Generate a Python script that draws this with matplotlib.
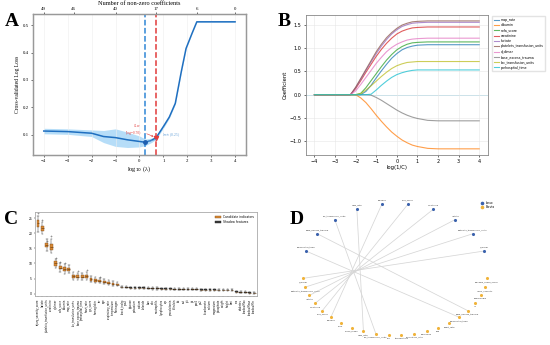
import numpy as np
import matplotlib
matplotlib.use('Agg')
import matplotlib.pyplot as plt
from matplotlib.patches import Patch
from matplotlib.lines import Line2D

# ---- Panel A data: lasso CV curve
log_lambda = [-4, -3, -2, -1.5, -1, -0.5, 0, 0.25, 0.5, 0.7, 1, 1.25, 1.5, 1.75, 1.95, 2.2, 2.4, 3, 4]
cv_loss = [0.114, 0.112, 0.106, 0.094, 0.090, 0.082, 0.076, 0.073, 0.080, 0.090, 0.130, 0.165,
           0.215, 0.330, 0.415, 0.470, 0.512, 0.512, 0.512]
cv_std = [0.010, 0.010, 0.012, 0.022, 0.032, 0.028, 0.020, 0.012, 0.008, 0.006, 0.006, 0.004,
          0.003, 0.002, 0.002, 0.001, 0.001, 0.001, 0.001]
lambda_min = 0.25
lambda_1se = 0.7
top_pos = [-4, -2.75, -1, 0.7, 2.4, 4]
top_labels = ['49', '46', '40', '17', '6', '0']

# ---- Panel B data: coefficient paths
log_c = [-4, -2.25, -2, -1.75, -1.5, -1.25, -1, -0.75, -0.5, -0.25, 0, 0.25, 0.5, 0.75, 1, 1.5, 2, 3, 4]
paths = {
    'map_rate': [0, 0, 0, 0, 0.07, 0.20, 0.36, 0.51, 0.65, 0.78, 0.88, 0.96, 1.01, 1.04, 1.06, 1.07, 1.07, 1.07, 1.07],
    'albumin': [0, 0, 0, -0.07, -0.17, -0.30, -0.44, -0.57, -0.69, -0.80, -0.89, -0.97, -1.03, -1.08, -1.11, -1.15, -1.16, -1.16, -1.16],
    'sofa_score': [0, 0, 0, 0.03, 0.15, 0.30, 0.45, 0.60, 0.74, 0.86, 0.96, 1.03, 1.08, 1.11, 1.12, 1.13, 1.13, 1.13, 1.13],
    'creatinine': [0, 0, 0.13, 0.30, 0.48, 0.65, 0.82, 0.97, 1.10, 1.21, 1.30, 1.36, 1.40, 1.43, 1.44, 1.45, 1.45, 1.45, 1.45],
    'lactate': [0, 0, 0.15, 0.33, 0.52, 0.70, 0.88, 1.04, 1.18, 1.30, 1.39, 1.46, 1.50, 1.53, 1.54, 1.55, 1.55, 1.55, 1.55],
    'platelets_transfusion_units': [0, 0, 0.16, 0.35, 0.54, 0.73, 0.92, 1.08, 1.22, 1.33, 1.42, 1.49, 1.53, 1.56, 1.57, 1.58, 1.58, 1.58, 1.58],
    'd_dimer': [0, 0, 0.08, 0.22, 0.37, 0.52, 0.67, 0.80, 0.92, 1.01, 1.08, 1.13, 1.17, 1.19, 1.20, 1.21, 1.21, 1.21, 1.21],
    'base_excess_trauma': [0, 0, 0, 0, 0, -0.01, -0.06, -0.12, -0.19, -0.26, -0.33, -0.39, -0.44, -0.48, -0.51, -0.55, -0.56, -0.56, -0.56],
    'rbc_transfusion_units': [0, 0, 0, 0.02, 0.10, 0.19, 0.29, 0.39, 0.48, 0.56, 0.62, 0.66, 0.69, 0.70, 0.71, 0.71, 0.71, 0.71, 0.71],
    'prehospital_time': [0, 0, 0, 0, 0, 0.01, 0.10, 0.20, 0.29, 0.37, 0.43, 0.47, 0.50, 0.52, 0.53, 0.53, 0.53, 0.53, 0.53],
}

# ---- Panel C data: boruta importance boxes
cand_names = ['injury_severity_score', 'lactate', 'platelets_transfusion_units', 'creatinine', 'd_dimer',
              'sofa_score', 'albumin', 'map_rate', 'rbc_transfusion_units', 'base_excess_trauma',
              'prehospital_time', 'heart_rate', 'gcs_score', 'hemoglobin', 'inr', 'age',
              'respiratory_rate', 'temperature', 'fibrinogen']
cand_med = [23.3, 21.7, 16.1, 15.6, 10.0, 8.6, 8.1, 8.0, 5.8, 5.6, 5.6, 5.8, 4.7, 4.4, 4.2, 3.9, 3.6, 3.3, 3.0]
cand_q1 = [22.2, 20.9, 15.3, 14.6, 9.3, 8.0, 7.5, 7.4, 5.3, 5.1, 5.1, 5.3, 4.3, 4.0, 3.85, 3.55, 3.3, 3.0, 2.75]
cand_q3 = [24.4, 22.5, 16.9, 16.6, 10.7, 9.2, 8.7, 8.6, 6.3, 6.1, 6.1, 6.3, 5.1, 4.8, 4.55, 4.25, 3.9, 3.6, 3.25]
cand_lo = [20.5, 19.8, 14.2, 13.3, 8.4, 7.1, 6.6, 6.8, 4.6, 4.5, 4.4, 4.6, 3.8, 3.5, 3.4, 3.1, 2.9, 2.6, 2.4]
cand_hi = [25.8, 23.7, 18.2, 18.0, 11.5, 10.0, 9.8, 9.6, 7.0, 6.9, 6.8, 7.2, 5.8, 5.5, 5.1, 4.9, 4.4, 4.2, 3.7]
cand_fly = [26.6, 24.5, 17.4, 19.0, 11.9, 10.6, 10.2, 0, 0, 7.5, 0, 7.8, 0, 0, 5.6, 0, 0, 0, 0]

shadow_names = ['shock_index', 'spo2', 'glucose', 'potassium', 'sodium', 'chloride', 'bun', 'wbc',
                'neutrophils', 'lymphocytes', 'crp', 'procalcitonin', 'bilirubin', 'alt', 'ast', 'ptt',
                'ph', 'pco2', 'po2', 'bicarbonate', 'calcium', 'magnesium', 'phosphate', 'weight',
                'height', 'bmi', 'sex', 'diabetes', 'shadowMax', 'shadowMean', 'shadowMin']
shadow_med = [2.2, 2.1, 2.0, 1.9, 1.9, 1.9, 1.8, 1.7, 1.7, 1.6, 1.6, 1.6, 1.5, 1.5, 1.5, 1.4, 1.4,
              1.4, 1.3, 1.3, 1.3, 1.3, 1.2, 1.2, 1.2, 1.2, 0.55, 0.45, 0.4, 0.3, 0.2]

# ---- Panel D data: feature overlap network
lasso_nodes = ['d_dimer', 'platelets_transfusion_units', 'lactate', 'creatinine', 'sofa_score',
               'albumin', 'map_rate', 'rbc_transfusion_units', 'base_excess_trauma', 'prehospital_time']
boruta_nodes = ['glasgow_coma_score', 'injury_severity', 'hemoglobin', 'inr', 'base_excess_trauma',
                'prehospital_time', 'heart_rate', 'age', 'fibrinogen', 'respiratory_rate',
                'temperature', 'gcs', 'rbc_transfusion_units', 'map_rate', 'shock_index', 'spo2',
                'albumin', 'sofa_score', 'creatinine', 'lactate', 'platelets_transfusion_units', 'd_dimer']

fig = plt.figure(figsize=(5.5, 3.45), dpi=100)
serif = 'Liberation Serif'

# ================= A =================
axA = fig.add_axes([0.06, 0.551, 0.387, 0.408])
lo = np.array(cv_loss) - np.array(cv_std)
hi = np.array(cv_loss) + np.array(cv_std)
axA.fill_between(log_lambda, lo, hi, color='#a9d8f7', alpha=0.85, lw=0)
axA.plot(log_lambda, cv_loss, color='#1f6fc0', lw=1.1)
axA.axvline(lambda_min, color='#2f86d6', ls='--', lw=1.1)
axA.axvline(lambda_1se, color='#e23a3a', ls='--', lw=1.1)
axA.plot([lambda_min], [np.interp(lambda_min, log_lambda, cv_loss)], 'o', color='#1f5fb0', ms=2.5)
axA.plot([lambda_1se], [np.interp(lambda_1se, log_lambda, cv_loss)], 'v', color='#e23a3a', ms=3)
axA.annotate('λ$_{1se}$\n(log=0.70)', xy=(lambda_1se, 0.09), xytext=(0.08, 0.105), fontsize=2.6,
             color='#e23a3a', ha='right', family=serif,
             arrowprops=dict(arrowstyle='->', color='#e23a3a', lw=0.4))
axA.annotate('λ$_{min}$ (0.25)', xy=(lambda_min, 0.073), xytext=(0.95, 0.094), fontsize=2.6,
             color='#5a9ad6', ha='left', family=serif,
             arrowprops=dict(arrowstyle='->', color='#5a9ad6', lw=0.4))
axA.set_xlim(-4.45, 4.45)
axA.set_ylim(0.027, 0.54)
axA.set_xticks(range(-4, 5))
axA.set_yticks([0.1, 0.2, 0.3, 0.4, 0.5])
axA.set_yticklabels(['0.1', '0.2', '0.3', '0.4', '0.5'])
axA.grid(axis='x', color='#eeeeee', lw=0.4)
axA.tick_params(labelsize=3.5, length=1.5, width=0.4, pad=1.5)
for lab in axA.get_xticklabels() + axA.get_yticklabels():
    lab.set_family(serif)
axA.set_xlabel('log$_{10}$ (λ)', fontsize=4.5, family=serif, labelpad=1)
axA.set_ylabel('Cross-validated Log Loss', fontsize=4, family=serif, labelpad=2)
for s in axA.spines.values():
    s.set_color('#999999')
    s.set_linewidth(0.9)
topA = axA.twiny()
topA.set_xlim(axA.get_xlim())
topA.set_xticks(top_pos)
topA.set_xticklabels(top_labels, fontsize=3.5, family=serif)
topA.tick_params(length=1.5, width=0.4, pad=1)
topA.set_xlabel('Number of non-zero coefficients', fontsize=4.5, family=serif, labelpad=1.5)
for s in topA.spines.values():
    s.set_color('#999999')
    s.set_linewidth(0.9)

# ================= B =================
axB = fig.add_axes([0.556, 0.551, 0.331, 0.406])
colors = plt.cm.tab10.colors
for i, (name, vals) in enumerate(paths.items()):
    axB.plot(log_c, vals, color=colors[i], lw=0.8, alpha=0.75, label=name)
axB.axhline(0, color='#9fd8ea', lw=0.6, zorder=0)
axB.set_xlim(-4.42, 4.42)
axB.set_ylim(-1.29, 1.71)
axB.set_xticks(range(-4, 5))
axB.set_yticks([-1.0, -0.5, 0.0, 0.5, 1.0, 1.5])
axB.grid(color='#e6e6e6', lw=0.4)
axB.tick_params(labelsize=3.5, length=1.5, width=0.4, pad=1.5)
axB.set_xlabel('log(1/C)', fontsize=3.8, labelpad=1)
axB.set_ylabel('Coefficient', fontsize=3.8, labelpad=1.5)
for s in axB.spines.values():
    s.set_color('#888888')
    s.set_linewidth(0.6)
axB.legend(loc='upper left', bbox_to_anchor=(1.015, 1.0), fontsize=2.3, frameon=True,
           handlelength=1.6, handletextpad=0.5, labelspacing=0.4, borderpad=0.5,
           edgecolor='#dddddd', fancybox=False)

# ================= C =================
axC = fig.add_axes([0.0636, 0.142, 0.404, 0.243])
stats = []
for i in range(len(cand_names)):
    stats.append(dict(med=cand_med[i], q1=cand_q1[i], q3=cand_q3[i], whislo=cand_lo[i],
                      whishi=cand_hi[i], fliers=[cand_fly[i]] if cand_fly[i] else [], label=cand_names[i]))
for i in range(len(shadow_names)):
    m = shadow_med[i]
    stats.append(dict(med=m, q1=m - 0.15, q3=m + 0.15, whislo=m - 0.35, whishi=m + 0.35,
                      fliers=[], label=shadow_names[i]))
n_cand = len(cand_names)
bp = axC.bxp(stats, positions=range(len(stats)), widths=0.65, patch_artist=True,
             flierprops=dict(marker='o', ms=0.8, mec='#555555', mfc='none', mew=0.3),
             medianprops=dict(color='#5a3510', lw=0.4),
             whiskerprops=dict(color='#444444', lw=0.35),
             capprops=dict(color='#444444', lw=0.35),
             boxprops=dict(lw=0.3))
for i, b in enumerate(bp['boxes']):
    if i < n_cand:
        b.set_facecolor('#d98a35')
        b.set_edgecolor('#8a5018')
    else:
        b.set_facecolor('#3a3a3a')
        b.set_edgecolor('#222222')
axC.set_xlim(-0.7, len(stats) - 0.3)
axC.set_ylim(-0.8, 27)
axC.set_yticks([0, 5, 10, 15, 20, 25])
axC.tick_params(axis='y', labelsize=2.2, length=1, width=0.3, pad=1)
axC.tick_params(axis='x', labelsize=1.8, length=1, width=0.3, pad=1, labelrotation=90)
for s in axC.spines.values():
    s.set_color('#aaaaaa')
    s.set_linewidth(0.6)
axC.legend(handles=[Patch(facecolor='#d98a35', edgecolor='#8a5018', lw=0.3, label='Candidate indicators'),
                    Patch(facecolor='#3a3a3a', edgecolor='#222222', lw=0.3, label='Shadow features')],
           loc='upper right', fontsize=2.2, frameon=False, handlelength=2, handleheight=0.8,
           labelspacing=0.3, borderaxespad=0.6)

# ================= D =================
axD = fig.add_axes([290 / 550, 0, 260 / 550, 150 / 345])
axD.set_xlim(290, 550)
axD.set_ylim(345, 195)
axD.axis('off')
cx, cy = 395, 271.7
ang_l = np.radians(np.linspace(17.6, 162.4, len(lasso_nodes)))
lx = cx + 93.3 * np.cos(ang_l)
ly = cy - 68.3 * np.sin(ang_l)
ang_b = np.radians(np.linspace(6, 174, len(boruta_nodes)))
bx = cx + 92.3 * np.cos(ang_b)
by = cy + 63.3 * np.sin(ang_b)
for i, name in enumerate(lasso_nodes):
    j = boruta_nodes.index(name)
    axD.plot([lx[i], bx[j]], [ly[i], by[j]], color='#d6d6d6', lw=0.55, zorder=1)
axD.scatter(lx, ly, s=5, color='#3b62ad', zorder=3, lw=0)
axD.scatter(bx, by, s=5, color='#f0b33a', zorder=3, lw=0)
for i, name in enumerate(lasso_nodes):
    axD.text(lx[i], ly[i] - 3, name, fontsize=1.6, ha='center', va='bottom', color='#333333')
for i, name in enumerate(boruta_nodes):
    axD.text(bx[i], by[i] + 3, name, fontsize=1.6, ha='center', va='top', color='#333333')
axD.legend(handles=[Line2D([], [], ls='', marker='o', ms=1.6, color='#3b62ad', label='Lasso'),
                    Line2D([], [], ls='', marker='o', ms=1.6, color='#f0b33a', label='Boruta')],
           loc='upper left', bbox_to_anchor=(0.72, 0.98), fontsize=2, frameon=False,
           handletextpad=0.3, labelspacing=0.2)

# panel letters
for letter, x, y in [('A', 12, 22), ('B', 284, 22), ('C', 11, 220), ('D', 297, 219)]:
    fig.text(x / 550, 1 - y / 345, letter, fontsize=14, fontweight='bold', family=serif,
             ha='center', va='center')

fig.savefig('out.png', dpi=100)
